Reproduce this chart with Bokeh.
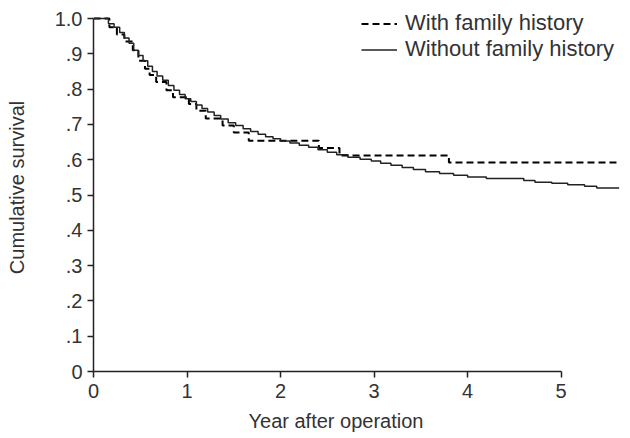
from bokeh.plotting import figure
from bokeh.models import Range1d, FixedTicker, Legend, LegendItem, Title
from bokeh.embed import file_html
from bokeh.resources import INLINE

# Kaplan-Meier step data (years, cumulative survival)
without_t = [0, 0.16, 0.22, 0.28, 0.33, 0.38, 0.43, 0.48, 0.53, 0.58, 0.63, 0.68,
             0.74, 0.80, 0.86, 0.92, 0.98, 1.04, 1.10, 1.16, 1.22, 1.29, 1.36,
             1.44, 1.52, 1.60, 1.68, 1.76, 1.84, 1.92, 2.00, 2.10, 2.20, 2.30,
             2.40, 2.50, 2.60, 2.72, 2.85, 2.97, 3.07, 3.18, 3.30, 3.42, 3.55,
             3.70, 3.85, 4.00, 4.20, 4.60, 4.72, 4.90, 5.07, 5.25, 5.38, 5.62]
without_s = [1.0, 0.985, 0.975, 0.96, 0.945, 0.93, 0.91, 0.895, 0.88, 0.865, 0.85,
             0.837, 0.825, 0.81, 0.797, 0.785, 0.773, 0.765, 0.755, 0.745, 0.735,
             0.725, 0.715, 0.705, 0.697, 0.688, 0.68, 0.672, 0.665, 0.659, 0.653,
             0.647, 0.641, 0.635, 0.628, 0.621, 0.614, 0.607, 0.601, 0.596, 0.59,
             0.584, 0.578, 0.572, 0.566, 0.561, 0.556, 0.551, 0.547, 0.541, 0.536,
             0.533, 0.529, 0.525, 0.52, 0.52]

with_t = [0, 0.17, 0.25, 0.33, 0.42, 0.48, 0.55, 0.60, 0.67, 0.78, 0.85, 1.02,
          1.10, 1.20, 1.38, 1.50, 1.66, 2.41, 2.63, 3.80, 5.62]
with_s = [1.0, 0.975, 0.955, 0.935, 0.91, 0.88, 0.858, 0.84, 0.82, 0.797, 0.777,
          0.758, 0.739, 0.717, 0.697, 0.677, 0.654, 0.633, 0.612, 0.592, 0.592]

x_ticks = [0, 1, 2, 3, 4, 5]
y_ticks = [0, 0.1, 0.2, 0.3, 0.4, 0.5, 0.6, 0.7, 0.8, 0.9, 1.0]
y_tick_labels = ["0", ".1", ".2", ".3", ".4", ".5", ".6", ".7", ".8", ".9", "1.0"]

FONT = "Liberation Sans"
TXT = "#333333"

p = figure(width=630, height=438, output_backend="svg", toolbar_location=None,
           x_range=Range1d(0, 5.72), y_range=Range1d(0, 1.0425),
           min_border_left=93, min_border_right=2, min_border_top=3,
           min_border_bottom=67)
p.outline_line_color = None
p.grid.visible = False
p.background_fill_color = "white"
p.border_fill_color = "white"

r_with = p.step(with_t, with_s, mode="after", line_color="black", line_width=2,
                line_dash="7 4")
r_without = p.step(without_t, without_s, mode="after", line_color="#222222",
                   line_width=1.5)

for ax in (p.xaxis[0], p.yaxis[0]):
    ax.axis_line_color = "#222222"
    ax.axis_line_width = 1.5
    ax.major_tick_line_color = "#222222"
    ax.major_tick_line_width = 1.5
    ax.major_tick_out = 6
    ax.major_tick_in = 0
    ax.minor_tick_line_color = None
    ax.major_label_text_font = FONT
    ax.major_label_text_font_size = "20px"
    ax.major_label_text_color = TXT

p.xaxis.ticker = FixedTicker(ticks=x_ticks)
p.xaxis.bounds = (0, 5)
p.xaxis.major_label_standoff = 6
p.yaxis.ticker = FixedTicker(ticks=y_ticks)
p.yaxis.bounds = (0, 1)
p.yaxis.major_label_standoff = 5
p.yaxis.major_label_overrides = {t: l for t, l in zip(y_ticks, y_tick_labels)}

p.yaxis.axis_label = "Cumulative survival"
p.yaxis.axis_label_standoff = 24
p.yaxis.axis_label_text_font = FONT
p.yaxis.axis_label_text_font_size = "20px"
p.yaxis.axis_label_text_font_style = "normal"
p.yaxis.axis_label_text_color = TXT

p.add_layout(Title(text="Year after operation", align="left", offset=155,
                   standoff=14, text_font=FONT, text_font_size="20px",
                   text_font_style="normal", text_color=TXT), "below")

legend = Legend(items=[LegendItem(label="With family history", renderers=[r_with]),
                       LegendItem(label="Without family history", renderers=[r_without])],
                location=(268, 309), orientation="vertical")
legend.glyph_width = 36
legend.glyph_height = 19
legend.label_height = 19
legend.spacing = 0
legend.padding = 0
legend.margin = 0
legend.label_standoff = 8
legend.border_line_color = None
legend.background_fill_alpha = 0
legend.label_text_font = FONT
legend.label_text_font_size = "22px"
legend.label_text_color = TXT
p.add_layout(legend)

open("out.html", "w").write(file_html(p, INLINE))
